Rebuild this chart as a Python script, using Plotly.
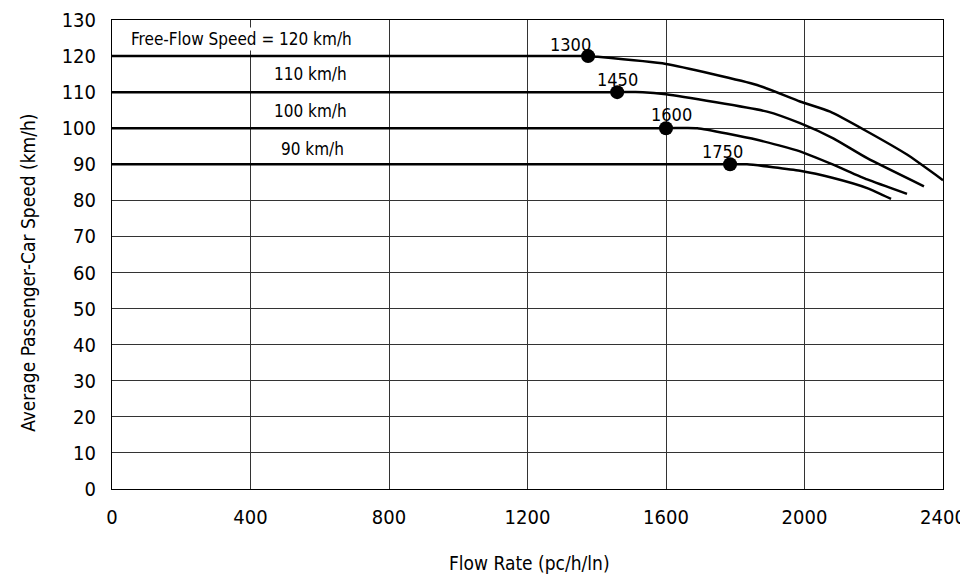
import plotly.graph_objects as go

# speed-flow curves (flow in pc/h/ln, speed in km/h)
flow_120 = [0, 1375, 1401, 1600, 1863, 1987, 2074, 2181, 2296, 2400]
speed_120 = [120, 120, 119.8, 117.8, 112.0, 107.4, 104.6, 99.1, 92.7, 85.6]

flow_110 = [0, 1459, 1533, 1600, 1892, 1987, 2083, 2181, 2345]
speed_110 = [110, 110, 110, 109.4, 104.6, 101.4, 97.2, 91.7, 83.9]

flow_100 = [0, 1600, 1690, 1863, 1987, 2083, 2181, 2296]
speed_100 = [100, 100, 100, 96.8, 93.6, 89.9, 85.8, 81.8]

flow_90 = [0, 1785, 1834, 1987, 2083, 2181, 2250]
speed_90 = [90, 90, 90, 88.2, 86.2, 83.4, 80.4]

# breakpoints
bp_flow = [1375, 1459, 1600, 1785]
bp_speed = [120, 110, 100, 90]
bp_labels = ['1300', '1450', '1600', '1750']

ffs_labels = ['Free-Flow Speed = 120 km/h', '110 km/h', '100 km/h', '90 km/h']

FONT = 'DejaVu Sans Condensed, Liberation Sans Narrow, sans-serif'

fig = go.Figure()
for fx, fy in [(flow_120, speed_120), (flow_110, speed_110),
               (flow_100, speed_100), (flow_90, speed_90)]:
    fig.add_trace(go.Scatter(x=fx, y=fy, mode='lines',
                             line=dict(color='black', width=2.5, shape='spline', smoothing=0.5),
                             hoverinfo='skip', showlegend=False))

fig.add_trace(go.Scatter(x=bp_flow, y=bp_speed, mode='markers',
                         marker=dict(color='black', size=14),
                         showlegend=False))

# breakpoint labels
bp_label_pos = [(1323, 123.2), (1461, 113.4), (1617, 103.8), (1762, 93.6)]
for txt, (lx, ly) in zip(bp_labels, bp_label_pos):
    fig.add_annotation(x=lx, y=ly, text=txt, showarrow=False,
                       xanchor='center', yanchor='middle',
                       font=dict(family=FONT, size=18, color='black'))

# free-flow speed labels
ffs_pos = [(375, 124.6), (572, 115.1), (572, 104.7), (580, 94.2)]
ffs_bg = ['white', 'rgba(0,0,0,0)', 'white', 'rgba(0,0,0,0)']
for txt, (lx, ly), bg in zip(ffs_labels, ffs_pos, ffs_bg):
    fig.add_annotation(x=lx, y=ly, text=txt, showarrow=False, bgcolor=bg,
                       xanchor='center', yanchor='middle',
                       font=dict(family=FONT, size=17, color='black'))

# axis titles
fig.add_annotation(x=0.503, y=-0.157, xref='paper', yref='paper',
                   xanchor='center', yanchor='middle',
                   text='Flow Rate (pc/h/ln)', showarrow=False,
                   font=dict(family=FONT, size=19))
fig.add_annotation(x=-0.101, y=0.461, xref='paper', yref='paper',
                   xanchor='center', yanchor='middle',
                   text='Average Passenger-Car Speed (km/h)', showarrow=False,
                   textangle=-90, font=dict(family=FONT, size=19))

fig.update_layout(
    width=968, height=576,
    margin=dict(l=104, r=33, t=12, b=95),
    plot_bgcolor='white', paper_bgcolor='white',
    font=dict(family=FONT, size=20, color='black'),
    xaxis=dict(range=[0, 2400], dtick=400, tick0=0, automargin=False,
               showgrid=True, gridcolor='#333', gridwidth=1,
               showline=True, linecolor='black', linewidth=1, mirror=True,
               zeroline=False, ticks='', ticklabelstandoff=10,
               ticklabeloverflow='allow'),
    yaxis=dict(range=[0, 130], dtick=10, tick0=0, automargin=False,
               showgrid=True, gridcolor='#333', gridwidth=1,
               showline=True, linecolor='black', linewidth=1, mirror=True,
               zeroline=False, ticks='', ticklabelstandoff=11,
               ticklabeloverflow='allow'),
)

fig.write_html('out.html')
